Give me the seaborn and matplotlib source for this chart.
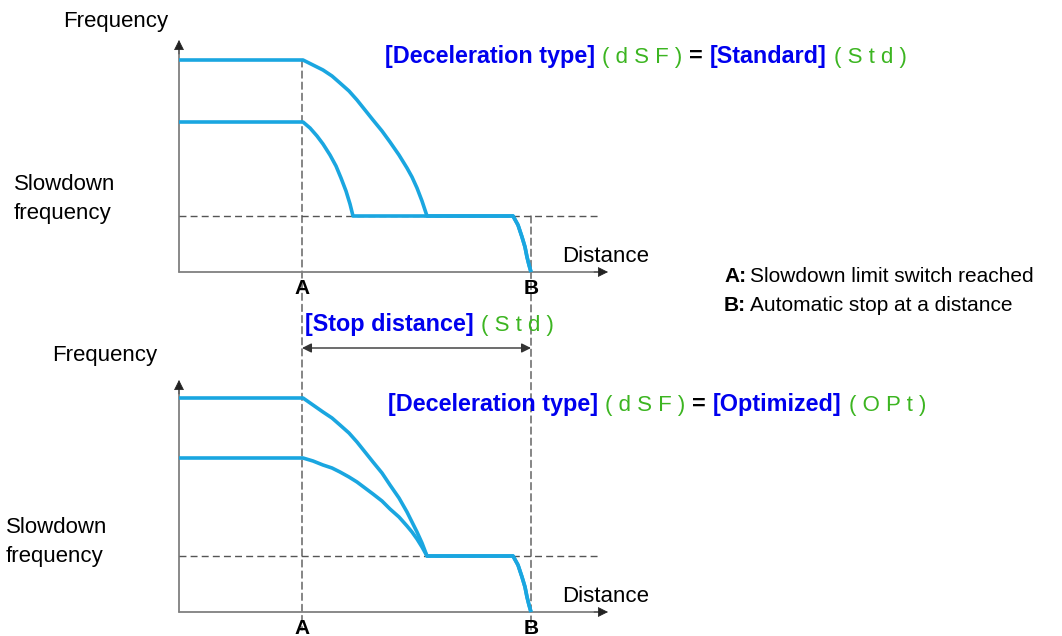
import matplotlib
matplotlib.use("Agg")
import matplotlib.pyplot as plt
import pandas as pd
import seaborn as sns
from matplotlib.patches import ConnectionPatch

# positions along the distance axis (arbitrary units, origin at the frequency axis)
dist_a = 123
dist_b = 352
dist_end = 429
freq_top = 232

# standard deceleration (top panel)
std_high = 212
std_low = 150
std_slow = 56
std_high_x = [124, 134, 144, 153, 161, 170, 178, 186, 194, 203, 211, 220, 228, 233, 238, 243, 248]
std_high_y = [212, 207, 202, 196, 189, 181, 172, 162, 152, 141, 130, 117, 104, 95, 84, 71, 56]
std_low_x = [124, 131, 138, 144, 151, 157, 162, 167, 171, 174]
std_low_y = [150, 144, 136, 128, 117, 106, 94, 81, 68, 56]

# optimized deceleration (bottom panel)
opt_high = 214
opt_low = 154
opt_slow = 56
opt_x = [124, 134, 144, 153, 161, 170, 178, 186, 194, 203, 211, 220, 228, 233, 238, 243, 248]
opt_high_y = [214, 207, 200, 194, 187, 179, 170, 160, 150, 139, 127, 114, 100, 90, 80, 69, 56]
opt_low_y = [154, 151, 147, 144, 140, 135, 130, 124, 118, 111, 103, 95, 86, 80, 73, 65, 56]

# final stop near B (both panels)
stop_x = [334, 339, 343, 346, 348, 350, 352]
stop_y = [56, 47, 35, 25, 15, 7, 0]

BLUE = "#0000ee"
GREEN = "#3cb521"
CURVE = "#1aa6e0"
AXIS = "#808080"
DASH = "#555555"

sns.set_theme(style="white")
plt.rcParams["font.family"] = ["Liberation Sans", "DejaVu Sans"]
plt.rcParams["text.color"] = "black"
FS = 16
FS_BLUE = 16.8
FS_GREEN = 16
FS_NOTE = 15


def curve_frame(high, curve_x, curve_y):
    xs = [0] + curve_x + stop_x
    ys = [high] + curve_y + stop_y
    return pd.DataFrame({"distance": xs, "frequency": ys})


def chain(ax, x, y, parts, gap=6):
    # pieces share one baseline; each starts right after the previous one
    prev = None
    for s, color, weight, size in parts:
        if prev is None:
            prev = ax.text(x, y, s, color=color, fontsize=size, fontweight=weight,
                           ha="left", va="baseline")
        else:
            prev = ax.annotate(s, xy=(1, y), xycoords=(prev, "data"), xytext=(gap, 0),
                               textcoords="offset pixels", color=color, fontsize=size,
                               fontweight=weight, ha="left", va="baseline",
                               annotation_clip=False)
    return prev


def draw_panel(ax, high, low, slow, hi_x, hi_y, lo_x, lo_y, title_parts, title_xy,
               freq_xy, sd_xy):
    ax.set_xlim(0, dist_end)
    ax.set_ylim(0, freq_top)
    ax.axis("off")

    # axes with arrows
    ax.plot([0, dist_end - 6], [0, 0], color=AXIS, lw=1.3, clip_on=False)
    ax.plot([0, 0], [0, freq_top - 8], color=AXIS, lw=1.3, clip_on=False)
    ax.annotate("", xy=(dist_end, 0), xytext=(dist_end - 14, 0),
                arrowprops=dict(arrowstyle="-|>", color="#222222", lw=0.5, mutation_scale=16,
                                shrinkA=0, shrinkB=0), annotation_clip=False)
    ax.annotate("", xy=(0, freq_top), xytext=(0, freq_top - 14),
                arrowprops=dict(arrowstyle="-|>", color="#222222", lw=0.5, mutation_scale=16,
                                shrinkA=0, shrinkB=0), annotation_clip=False)

    # slowdown frequency guide
    ax.plot([0, 421], [slow, slow], color=DASH, lw=1, ls=(0, (5, 3)), clip_on=False)

    for df in (curve_frame(high, hi_x, hi_y), curve_frame(low, lo_x, lo_y)):
        sns.lineplot(data=df, x="distance", y="frequency", sort=False, estimator=None,
                     color=CURVE, lw=2.6, ax=ax, clip_on=False,
                     solid_joinstyle="round", solid_capstyle="butt")
    ax.set_xlabel("")
    ax.set_ylabel("")

    ax.text(freq_xy[0], freq_xy[1], "Frequency", fontsize=FS, ha="right", va="center")
    ax.text(sd_xy[0], sd_xy[1], "Slowdown\nfrequency", fontsize=FS, ha="left", va="center",
            linespacing=1.45)
    ax.text(383, 16, "Distance", fontsize=FS, ha="left", va="center")
    chain(ax, title_xy[0], title_xy[1], title_parts, gap=7)


def title(value, code):
    return [("[Deceleration type]", BLUE, "bold", FS_BLUE),
            ("( d S F )", GREEN, "normal", FS_GREEN),
            ("=", "black", "bold", FS_BLUE),
            (value, BLUE, "bold", FS_BLUE),
            (code, GREEN, "normal", FS_GREEN)]


fig = plt.figure(figsize=(10.62, 6.36), dpi=100)
W, H = 1062, 636
ax1 = fig.add_axes([179 / W, (H - 272) / H, dist_end / W, freq_top / H])
ax2 = fig.add_axes([179 / W, (H - 612) / H, dist_end / W, freq_top / H])

draw_panel(ax1, std_high, std_low, std_slow, std_high_x, std_high_y, std_low_x, std_low_y,
           title("[Standard]", "( S t d )"), (206, 209), (-11, 250), (-165, 73))
draw_panel(ax2, opt_high, opt_low, opt_slow, opt_x, opt_high_y, opt_x, opt_low_y,
           title("[Optimized]", "( O P t )"), (209, 201), (-22, 257), (-173, 70))

# A and B reference lines running through both panels
for x0, y0 in [(dist_a, std_high), (dist_b, std_slow)]:
    con = ConnectionPatch(xyA=(x0, y0), coordsA=ax1.transData, xyB=(x0, -18),
                          coordsB=ax2.transData, color=DASH, lw=1, ls=(0, (5, 3)), zorder=0)
    fig.add_artist(con)

for ax, ly in [(ax1, -17), (ax2, -16)]:
    ax.text(dist_a, ly, "A", fontsize=FS - 1, fontweight="bold", ha="center", va="center")
    ax.text(dist_b, ly, "B", fontsize=FS - 1, fontweight="bold", ha="center", va="center")

# stop distance dimension
ax1.annotate("", xy=(dist_b, -76), xytext=(dist_a, -76),
             arrowprops=dict(arrowstyle="<|-|>", color="#333333", lw=1, mutation_scale=14,
                             shrinkA=0, shrinkB=0), annotation_clip=False)
chain(ax1, 126, -59, [("[Stop distance]", BLUE, "bold", FS_BLUE),
                      ("( S t d )", GREEN, "normal", FS_GREEN)], gap=7)

# legend notes
chain(ax1, 545, -10, [("A:", "black", "bold", FS_NOTE),
                      ("Slowdown limit switch reached", "black", "normal", FS_NOTE)], gap=4)
chain(ax1, 545, -39, [("B:", "black", "bold", FS_NOTE),
                      ("Automatic stop at a distance", "black", "normal", FS_NOTE)], gap=4)

fig.savefig("out.png", dpi=100)
